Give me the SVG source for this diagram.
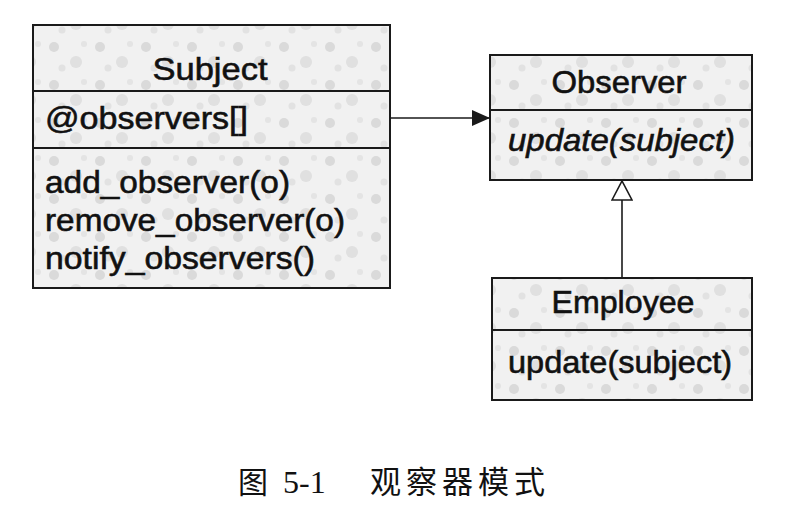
<svg xmlns="http://www.w3.org/2000/svg" width="804" height="522" viewBox="0 0 804 522">
  <style>
    .box { fill: url(#tex); stroke: #1a1a1a; stroke-width: 2; }
    .div { stroke: #1a1a1a; stroke-width: 2; }
    .t { font-family: "Liberation Sans", Arial, sans-serif; font-size: 32px; fill: #111; stroke: #111; stroke-width: 0.6; }
    .it { font-style: italic; }
    .conn { stroke: #1a1a1a; stroke-width: 1.6; fill: none; }
    .cap { font-family: "Liberation Serif", "Noto Sans CJK SC", serif; font-size: 32px; fill: #111; }
  </style>
  <defs>
    <pattern id="tex" patternUnits="userSpaceOnUse" width="46" height="38">
      <rect width="46" height="38" fill="#f1f1f1"/>
      <circle cx="8" cy="9" r="5" fill="#dadada"/>
      <circle cx="30" cy="24" r="6" fill="#e0e0e0"/>
      <circle cx="38" cy="6" r="3" fill="#e4e4e4"/>
      <circle cx="16" cy="30" r="3.5" fill="#e2e2e2"/>
    </pattern>
    <marker id="filled" markerWidth="20" markerHeight="16" refX="18" refY="8" orient="auto" markerUnits="userSpaceOnUse">
      <path d="M0,0 L18,8 L0,16 Z" fill="#1a1a1a"/>
    </marker>
    <marker id="hollow" markerWidth="22" markerHeight="22" refX="20" refY="11" orient="auto" markerUnits="userSpaceOnUse">
      <path d="M1,1 L20,11 L1,21 Z" fill="#ffffff" stroke="#1a1a1a" stroke-width="1.6"/>
    </marker>
  </defs>
  <rect width="804" height="522" fill="#ffffff"/>

  <g id="connectors">
    <line class="conn" x1="390" y1="118" x2="490" y2="118" marker-end="url(#filled)"/>
    <line class="conn" x1="622" y1="278" x2="622" y2="181" marker-end="url(#hollow)"/>
  </g>

  <g id="subject">
    <rect class="box" x="33" y="25" width="357" height="263"/>
    <line class="div" x1="33" y1="91" x2="390" y2="91"/>
    <line class="div" x1="33" y1="148" x2="390" y2="148"/>
    <text class="t" x="210" y="80" text-anchor="middle" textLength="115" lengthAdjust="spacingAndGlyphs">Subject</text>
    <text class="t" x="45" y="129" textLength="203" lengthAdjust="spacingAndGlyphs">@observers[]</text>
    <text class="t" x="45" y="193" textLength="245" lengthAdjust="spacingAndGlyphs">add_observer(o)</text>
    <text class="t" x="45" y="231" textLength="300" lengthAdjust="spacingAndGlyphs">remove_observer(o)</text>
    <text class="t" x="45" y="269" textLength="270" lengthAdjust="spacingAndGlyphs">notify_observers()</text>
  </g>

  <g id="observer">
    <rect class="box" x="490" y="55" width="262" height="125"/>
    <line class="div" x1="490" y1="110" x2="752" y2="110"/>
    <text class="t" x="619" y="93" text-anchor="middle" textLength="135" lengthAdjust="spacingAndGlyphs">Observer</text>
    <text class="t it" x="508" y="151" textLength="227" lengthAdjust="spacingAndGlyphs">update(subject)</text>
  </g>

  <g id="employee">
    <rect class="box" x="492" y="278" width="260" height="122"/>
    <line class="div" x1="492" y1="330" x2="752" y2="330"/>
    <text class="t" x="623" y="313" text-anchor="middle" textLength="143" lengthAdjust="spacingAndGlyphs">Employee</text>
    <text class="t" x="508" y="373" textLength="224" lengthAdjust="spacingAndGlyphs">update(subject)</text>
  </g>

  <text class="cap" y="493"><tspan x="238" font-family="Noto Sans CJK SC, sans-serif" font-size="30">图</tspan><tspan x="283">5-1</tspan><tspan x="370" font-family="Noto Sans CJK SC, sans-serif" font-size="31" letter-spacing="5">观察器模式</tspan></text>
</svg>
